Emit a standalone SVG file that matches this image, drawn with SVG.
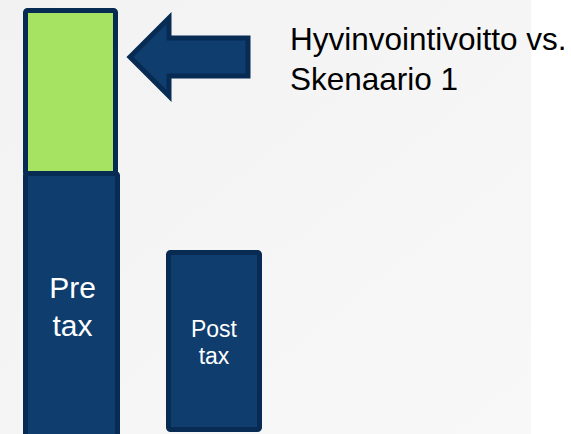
<svg xmlns="http://www.w3.org/2000/svg" width="571" height="434" viewBox="0 0 571 434">
  <defs>
    <linearGradient id="bg" x1="0" y1="0" x2="1" y2="1">
      <stop offset="0" stop-color="#f2f2f2"/>
      <stop offset="1" stop-color="#f8f8f8"/>
    </linearGradient>
  </defs>
  <style>
    .bar { fill: #0f3d6e; stroke: #082b54; stroke-width: 5; }
    .gain { fill: #a6e362; stroke: #082b54; stroke-width: 5; }
    .lbl { fill: #ffffff; font-family: "Liberation Sans", Arial, sans-serif; text-anchor: middle; }
    .cap { fill: #000000; font-family: "Liberation Sans", Arial, sans-serif; font-size: 31.5px; }
  </style>
  <rect x="0" y="0" width="571" height="434" fill="#ffffff"/>
  <rect x="0" y="0" width="531" height="434" fill="url(#bg)"/>

  <g id="gain">
    <rect class="gain" x="25.5" y="10.5" width="90" height="164" rx="2"/>
  </g>
  <g id="pretax">
    <rect class="bar" x="25.5" y="173.5" width="92" height="270" rx="2"/>
    <text class="lbl" font-size="30" x="72.5" y="298">Pre</text>
    <text class="lbl" font-size="30" x="72.5" y="336">tax</text>
  </g>
  <g id="posttax">
    <rect class="bar" x="168.5" y="252.5" width="91" height="177" rx="2"/>
    <text class="lbl" font-size="23" x="214" y="336.5">Post</text>
    <text class="lbl" font-size="23" x="214" y="363.5">tax</text>
  </g>
  <g id="connectors">
    <path class="bar" stroke-width="4" d="M130,57 L169,18 L169,38 L248,38 L248,76 L169,76 L169,96 Z"/>
  </g>
  <g id="caption">
    <text class="cap" x="290" y="50">Hyvinvointivoitto vs.</text>
    <text class="cap" x="290" y="90">Skenaario 1</text>
  </g>
</svg>
